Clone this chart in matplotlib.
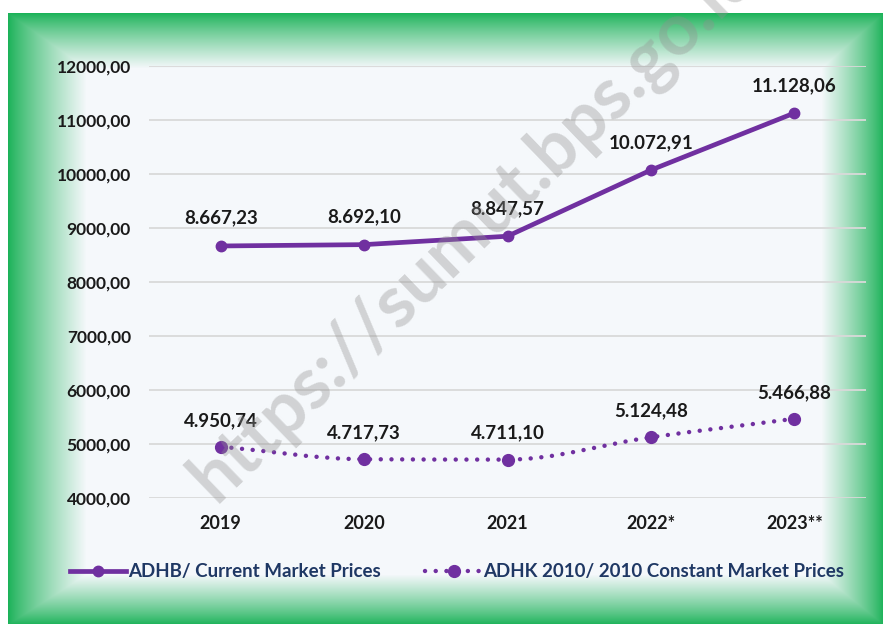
import numpy as np
import matplotlib
matplotlib.use("Agg")
import matplotlib.pyplot as plt
from matplotlib.path import Path
from matplotlib.patches import PathPatch
from matplotlib.lines import Line2D

# ---------------- data ----------------
years = ["2019", "2020", "2021", "2022*", "2023**"]
adhb = [8667.23, 8692.10, 8847.57, 10072.91, 11128.06]
adhk = [4950.74, 4717.73, 4711.10, 5124.48, 5466.88]
adhb_labels = ["8.667,23", "8.692,10", "8.847,57", "10.072,91", "11.128,06"]
adhk_labels = ["4.950,74", "4.717,73", "4.711,10", "5.124,48", "5.466,88"]
yticks = [4000, 5000, 6000, 7000, 8000, 9000, 10000, 11000, 12000]
ytick_labels = ["4000,00", "5000,00", "6000,00", "7000,00", "8000,00",
                "9000,00", "10000,00", "11000,00", "12000,00"]
series_names = ["ADHB/ Current Market Prices",
                "ADHK 2010/ 2010 Constant Market Prices"]
watermark = "https://sumut.bps.go.id"

PURPLE = "#7030a0"
FONT = "Lato"

W, H = 883, 632
fig = plt.figure(figsize=(W / 100, H / 100), dpi=100)

# ---------------- background: soft green bevelled frame ----------------
yy, xx = np.mgrid[0:H, 0:W].astype(float)
x0, x1, y0, y1 = 8, 883, 13, 624
tl = (xx - x0) / 78.0
tr = (x1 - xx) / 62.0
tt = (yy - y0) / 55.0
tb = (y1 - yy) / 50.0
t = np.clip(np.minimum(np.minimum(tl, tr), np.minimum(tt, tb)), 0, 1)
s = t ** 0.85
green = np.array([27, 178, 88]) / 255.0
inner = np.array([245, 248, 251]) / 255.0
img = green[None, None, :] * (1 - s[..., None]) + inner[None, None, :] * s[..., None]
outside = (xx < x0) | (xx >= x1) | (yy < y0) | (yy >= y1)
img[outside] = 1.0
fig.figimage(img, 0, 0, zorder=-10, origin="upper")

# ---------------- axes ----------------
ax = fig.add_axes([149 / W, (H - 498) / H, (866 - 149) / W, (498 - 66) / H])
ax.set_facecolor("none")
x = np.arange(len(years))
ax.set_xlim(-0.5, len(years) - 0.5)
ax.set_ylim(yticks[0], yticks[-1])
ax.set_yticks(yticks)
ax.set_yticklabels(ytick_labels)
ax.set_xticks(x)
ax.set_xticklabels(years)
for sp in ax.spines.values():
    sp.set_visible(False)
ax.tick_params(axis="both", length=0, colors="#1a1a1a")
ax.tick_params(axis="y", pad=13, labelsize=12.5)
ax.tick_params(axis="x", pad=12, labelsize=13)
for lab in ax.get_xticklabels() + ax.get_yticklabels():
    lab.set_fontfamily(FONT)
    lab.set_fontweight("bold")
ax.grid(axis="y", color="#d9d9d9", linewidth=1.3)
ax.set_axisbelow(True)

# ADHB: solid straight line
ax.plot(x, adhb, color=PURPLE, linewidth=3.4, marker="o", markersize=7.5,
        solid_capstyle="round", zorder=3)


# ADHK: smoothed dotted line (monotone cubic Bezier through the data points)
def smooth_path(xs, ys):
    xs = np.asarray(xs, float)
    ys = np.asarray(ys, float)
    n = len(xs)
    h = np.diff(xs)
    d = np.diff(ys) / h
    m = np.zeros(n)
    m[0], m[-1] = d[0], d[-1]
    for i in range(1, n - 1):
        if d[i - 1] * d[i] <= 0:
            m[i] = 0.0
        else:
            m[i] = 2.0 / (1.0 / d[i - 1] + 1.0 / d[i])
    verts = [(xs[0], ys[0])]
    codes = [Path.MOVETO]
    for i in range(n - 1):
        dx = h[i] / 3.0
        verts += [(xs[i] + dx, ys[i] + m[i] * dx),
                  (xs[i + 1] - dx, ys[i + 1] - m[i + 1] * dx),
                  (xs[i + 1], ys[i + 1])]
        codes += [Path.CURVE4] * 3
    return Path(verts, codes)


patch = PathPatch(smooth_path(x, adhk), facecolor="none", edgecolor=PURPLE,
                  linewidth=3.2, linestyle=(0, (0.01, 2.4)),
                  transform=ax.transData, zorder=3)
patch.set_capstyle("round")
ax.add_patch(patch)
ax.plot(x, adhk, linestyle="none", color=PURPLE, marker="o", markersize=8.5,
        zorder=4)

# data labels
for xi, v, lab in zip(x, adhb, adhb_labels):
    ax.annotate(lab, (xi, v), xytext=(0, 20), textcoords="offset points",
                ha="center", va="center", fontsize=13.5, fontweight="bold",
                fontfamily=FONT, color="#1a1a1a", zorder=5)
for xi, v, lab in zip(x, adhk, adhk_labels):
    ax.annotate(lab, (xi, v), xytext=(0, 19), textcoords="offset points",
                ha="center", va="center", fontsize=13.5, fontweight="bold",
                fontfamily=FONT, color="#1a1a1a", zorder=5)

# legend
h1 = Line2D([], [], color=PURPLE, linewidth=3.4, marker="o", markersize=7.5)
h2 = Line2D([], [], color=PURPLE, linewidth=3.2, linestyle=(0, (0.01, 2.4)),
            dash_capstyle="round", marker="o", markersize=8.5)
leg = fig.legend([h1, h2], series_names, loc="center",
                 bbox_to_anchor=(457 / W, 1 - 572 / H), ncol=2, frameon=False,
                 handlelength=3.0, handletextpad=0.1, columnspacing=2.4,
                 markerscale=1.0,
                 prop={"family": FONT, "weight": "bold", "size": 13.5})
for txt in leg.get_texts():
    txt.set_color("#1f3864")

# watermark
fig.text(474 / W, 1 - 226 / H, watermark, rotation=44, ha="center",
         va="center", fontsize=52, fontweight="bold", fontfamily=FONT,
         color="#909090", alpha=0.36, zorder=20, rotation_mode="anchor")

fig.savefig("out.png", dpi=100)
